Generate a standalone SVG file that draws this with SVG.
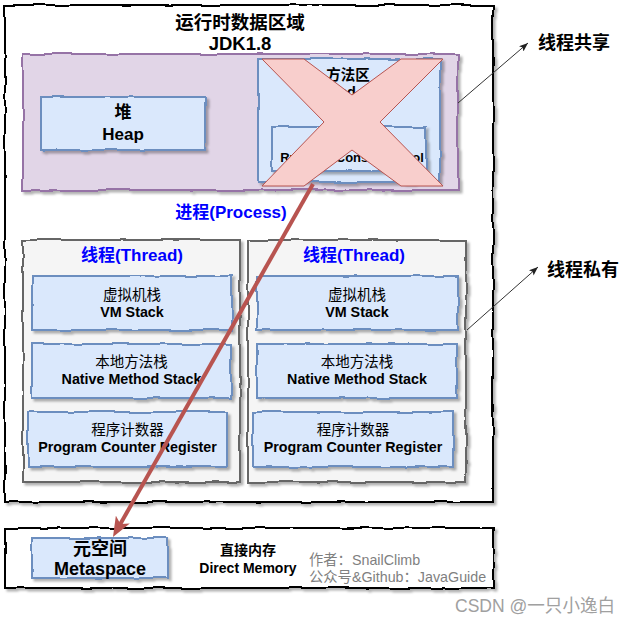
<svg xmlns="http://www.w3.org/2000/svg" width="631" height="622" viewBox="0 0 631 622">
<defs>
<style>
text{font-family:'Liberation Sans','Noto Sans CJK SC',sans-serif;text-anchor:middle;fill:#000}
.outer{fill:#fff;stroke:#000;stroke-width:2}
.purple{fill:#e1d5e7;stroke:#9673a6;stroke-width:2}
.blue{fill:#dae8fc;stroke:#6c8ebf;stroke-width:2}
.gray{fill:#f5f5f5;stroke:#666;stroke-width:2}
.sk{filter:url(#rough)}
.b{font-weight:bold}
.t18{font-size:18.5px;font-weight:bold}
.t17{font-size:17px;font-weight:bold}
.zh{font-size:14.5px}
.en{font-size:14.3px;font-weight:bold}
.blueT{fill:#0000ff;font-size:17px;font-weight:bold}
.note{font-size:14.3px;fill:#7f7f7f;text-anchor:start}
.thin{stroke:#333;stroke-width:1;fill:none}
</style>
<filter id="rough" filterUnits="userSpaceOnUse" x="0" y="0" width="631" height="622">
<feTurbulence type="fractalNoise" baseFrequency="0.04" numOctaves="2" seed="5" result="noise"/>
<feDisplacementMap in="SourceGraphic" in2="noise" scale="4" xChannelSelector="R" yChannelSelector="G" result="disp"/>
<feDropShadow in="disp" dx="2.5" dy="2.5" stdDeviation="1" flood-color="#000" flood-opacity="0.3"/>
</filter>
<marker id="redHead" viewBox="0 0 20 16" refX="10" refY="8" markerWidth="20" markerHeight="16" markerUnits="userSpaceOnUse" orient="auto">
<path d="M0,0 L20,8 L0,16 L5,8 Z" fill="#b85450"/>
</marker>
<marker id="thinHead" viewBox="0 0 9 7" refX="9" refY="3.5" markerWidth="9" markerHeight="7" markerUnits="userSpaceOnUse" orient="auto">
<path d="M0,0 L9,3.5 L0,7 L2,3.5 Z" fill="#222"/>
</marker>
</defs>

<g id="runtime-data-area">
<rect class="outer sk" x="5" y="5" width="488" height="497"/>
<text class="t18" x="240" y="29">运行时数据区域</text>
<text class="t18" x="240" y="50">JDK1.8</text>
</g>

<g id="shared-area">
<rect class="purple sk" x="23" y="54" width="435" height="136"/>
</g>

<g id="heap">
<rect class="blue sk" x="41" y="97" width="164" height="53"/>
<text class="t17" x="123" y="118">堆</text>
<text class="t17" x="123" y="140">Heap</text>
</g>

<g id="method-area">
<rect class="blue sk" x="258" y="59" width="182" height="123"/>
<text class="b" style="font-size:14.5px" x="348" y="80">方法区</text>
<text class="b" style="font-size:14.5px" x="348" y="97">Method Area</text>
</g>

<g id="constant-pool">
<rect class="blue sk" x="272" y="127" width="154" height="44"/>
<text class="b" style="font-size:13px" x="352" y="162">Runtime Constant Pool</text>
</g>

<g id="x-mark">
<polygon points="262,59 304,59 352,95 401,59 443,59 380,122 443,186 401,186 352,150 304,186 262,186 324,122" fill="#f8cecc" stroke="#b85450" stroke-width="1"/>
</g>

<g id="process-label">
<text class="blueT" x="231" y="218">进程(Process)</text>
</g>

<g id="thread-1">
<rect class="gray sk" x="23" y="240" width="217" height="242"/>
<text class="blueT" x="132" y="261">线程(Thread)</text>
</g>
<g id="thread-1-vm-stack">
<rect class="blue sk" x="32" y="276" width="200" height="54"/>
<text class="zh" x="132" y="300">虚拟机栈</text>
<text class="en" x="132" y="317">VM Stack</text>
</g>
<g id="thread-1-native-stack">
<rect class="blue sk" x="32" y="344" width="199" height="54"/>
<text class="zh" x="131.5" y="367">本地方法栈</text>
<text class="en" x="131.5" y="384">Native Method Stack</text>
</g>
<g id="thread-1-pc-register">
<rect class="blue sk" x="28" y="412" width="199" height="55"/>
<text class="zh" x="127.5" y="435">程序计数器</text>
<text class="en" x="127.5" y="452">Program Counter Register</text>
</g>

<g id="thread-2">
<rect class="gray sk" x="248" y="240" width="218" height="242"/>
<text class="blueT" x="354" y="261">线程(Thread)</text>
</g>
<g id="thread-2-vm-stack">
<rect class="blue sk" x="257" y="276" width="201" height="54"/>
<text class="zh" x="357" y="300">虚拟机栈</text>
<text class="en" x="357" y="317">VM Stack</text>
</g>
<g id="thread-2-native-stack">
<rect class="blue sk" x="257" y="344" width="200" height="54"/>
<text class="zh" x="357" y="367">本地方法栈</text>
<text class="en" x="357" y="384">Native Method Stack</text>
</g>
<g id="thread-2-pc-register">
<rect class="blue sk" x="253" y="412" width="200" height="55"/>
<text class="zh" x="353" y="435">程序计数器</text>
<text class="en" x="353" y="452">Program Counter Register</text>
</g>

<g id="native-memory">
<rect class="outer sk" x="5" y="528" width="488" height="60"/>
</g>
<g id="metaspace">
<rect class="blue sk" x="32" y="538" width="136" height="40"/>
<text class="b" style="font-size:18px" x="100" y="555">元空间</text>
<text class="b" style="font-size:18px" x="100" y="575">Metaspace</text>
</g>
<g id="direct-memory">
<text class="b" style="font-size:14px" x="248" y="555">直接内存</text>
<text class="b" style="font-size:14px" x="248" y="573">Direct Memory</text>
</g>
<g id="author">
<text class="note" x="309" y="565">作者：SnailClimb</text>
<text class="note" x="309" y="582">公众号&amp;Github：JavaGuide</text>
</g>

<g id="label-shared">
<text class="b" style="font-size:18px;text-anchor:start" x="538" y="49">线程共享</text>
</g>
<g id="label-private">
<text class="b" style="font-size:18px;text-anchor:start" x="547" y="276">线程私有</text>
</g>

<g id="watermark">
<text style="font-size:18px;fill:#a0a0a0;text-anchor:start" x="455" y="612" textLength="160" lengthAdjust="spacingAndGlyphs">CSDN @一只小逸白</text>
</g>

<g id="connectors">
<line x1="313" y1="184" x2="117.9" y2="528.3" stroke="#b85450" stroke-width="4" marker-end="url(#redHead)"/>
<line class="thin" x1="458" y1="103" x2="528" y2="43" marker-end="url(#thinHead)"/>
<line class="thin" x1="467" y1="330" x2="538" y2="267" marker-end="url(#thinHead)"/>
</g>
</svg>
